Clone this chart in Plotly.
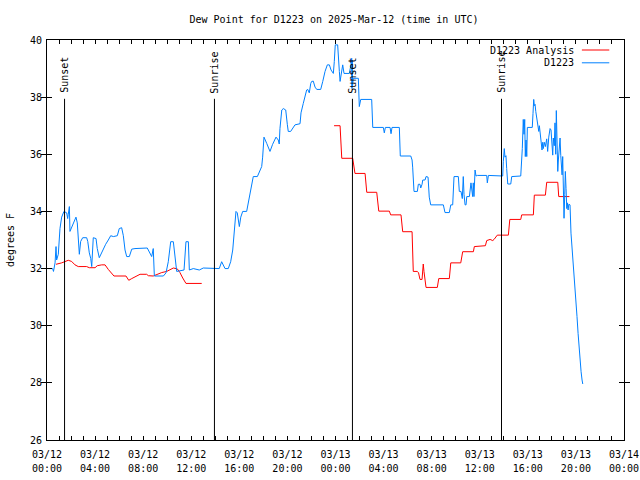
import pandas as pd
import plotly.graph_objects as go

# ---- data (hours since 2025-03-12 00:00 UTC, dew point in degrees F) ----
blue_hours = [0.1, 0.47, 0.54, 0.67, 0.75, 0.8, 0.94, 1.08, 1.22, 1.41, 1.64, 1.72, 1.77, 1.86, 1.91,
              2.05, 2.19, 2.41, 2.52, 2.6, 2.69, 2.8, 2.97, 3.3, 3.39, 3.52, 3.64, 3.72, 3.8, 3.85,
              4.08, 4.18, 4.35, 4.47, 4.68, 4.88, 5.1, 5.3, 5.52, 5.85, 6.01, 6.21, 6.35, 6.49, 6.63,
              6.85, 7.05, 7.32, 8.34, 8.57, 8.71, 8.84, 8.93, 9.68, 9.9, 10.09, 10.29, 10.51, 10.65,
              10.79, 11.4, 11.56, 11.76, 11.84, 12.17, 12.45, 12.67, 13.0, 14.33, 14.53, 14.81, 15.08,
              15.28, 15.45, 15.56, 15.72, 15.83, 16.0, 16.12, 16.28, 16.61, 16.75, 16.89, 17.03, 17.16,
              17.5, 17.72, 17.86, 17.94, 18.0, 18.05, 18.28, 18.55, 18.77, 19.05, 19.24, 19.32, 19.38,
              19.53, 19.66, 19.86, 19.99, 20.07, 20.27, 20.63, 21.05, 21.13, 21.32, 21.46, 21.6, 21.69,
              21.82, 21.94, 22.02, 22.15, 22.3, 22.44, 22.77, 22.94, 23.13, 23.32, 23.49, 23.63, 23.82,
              23.9, 23.98, 24.18, 24.23, 24.32, 24.38, 24.52, 24.6, 24.71, 25.15, 25.27, 25.35, 25.37,
              25.39, 25.42, 25.48, 25.9, 25.98, 26.1, 27.01, 27.1, 27.98, 28.06, 28.15, 28.54, 28.62,
              28.7, 29.31, 29.39, 30.26, 30.37, 30.42, 30.53, 30.81, 30.89, 31.03, 31.09, 31.2, 31.26,
              31.45, 31.53, 31.7, 31.8, 31.92, 32.97, 33.11, 33.47, 33.59, 33.75, 33.86, 34.22, 34.3,
              34.44, 34.55, 34.63, 34.69, 34.78, 34.86, 34.92, 35.14, 35.27, 35.41, 35.46, 35.52, 35.61,
              35.69, 35.8, 36.58, 36.63, 36.72, 37.91, 37.96, 38.04, 38.1, 38.18, 38.24, 38.33, 38.58,
              38.66, 39.41, 39.49, 39.54, 39.62, 39.68, 39.74, 39.79, 39.85, 39.91, 39.96, 40.37, 40.43,
              40.49, 40.54, 40.6, 40.66, 40.74, 40.82, 40.91, 40.96, 41.04, 41.12, 41.18, 41.24, 41.29,
              41.37, 41.46, 41.57, 41.65, 41.74, 41.85, 41.93, 42.01, 42.07, 42.12, 42.2, 42.26, 42.32,
              42.37, 42.43, 42.49, 42.54, 42.6, 42.68, 42.74, 42.79, 42.85, 42.9, 42.95, 43.01, 43.07,
              43.12, 43.18, 43.24, 43.29, 43.35, 43.41, 43.51, 43.59, 43.7, 43.79, 43.93, 44.01, 44.09,
              44.18, 44.26, 44.34, 44.43, 44.51, 44.57]
blue_values = [32.0, 32.0, 31.9, 32.2, 32.77, 32.3, 32.5, 33.4, 33.8, 34.0, 33.95, 33.75, 33.9, 34.17, 33.3,
               33.45, 33.6, 33.8, 33.6, 33.0, 32.5, 32.95, 33.08, 33.08, 32.95, 32.55, 32.35, 32.07, 32.9, 33.08,
               33.05, 32.7, 32.38, 32.5, 32.65, 32.85, 33.0, 33.15, 33.12, 33.15, 33.4, 33.43, 33.15, 32.65, 32.42,
               32.42, 32.68, 32.7, 32.72, 32.5, 32.42, 32.7, 31.74, 31.74, 31.85, 32.24, 32.94, 32.94, 32.4,
               31.9, 31.95, 32.94, 32.94, 31.95, 32.0, 31.97, 31.95, 32.02, 32.0, 32.24, 32.0, 32.0,
               32.24, 32.65, 33.12, 34.0, 33.95, 33.47, 33.8, 34.0, 34.0, 34.29, 34.7, 35.0, 35.22,
               35.22, 35.4, 35.57, 35.9, 36.38, 36.6, 36.38, 36.1, 36.35, 36.6, 36.5, 36.36, 36.9,
               37.55, 37.6, 37.55, 37.05, 36.8, 36.8, 37.03, 37.07, 37.45, 37.78, 38.05, 38.25, 38.27,
               38.15, 38.48, 38.55, 38.56, 38.35, 38.27, 38.27, 38.55, 38.9, 39.13, 39.13, 38.95, 38.83,
               39.25, 39.83, 39.83, 39.3, 38.9, 38.55, 38.95, 39.13, 38.83, 38.83, 39.1, 39.36, 38.3,
               39.3, 38.4, 38.66, 38.66, 37.67, 37.92, 37.92, 36.94, 36.94, 36.75, 36.94, 36.94, 36.72,
               36.94, 36.94, 35.94, 35.94, 35.8, 35.55, 34.7, 34.7, 34.95, 34.95, 34.82, 34.95, 35.1,
               35.1, 35.22, 35.2, 34.5, 34.23, 34.23, 33.96, 33.96, 34.23, 34.23, 35.22, 35.22, 34.7,
               34.7, 34.45, 35.22, 34.6, 34.23, 34.23, 34.52, 34.52, 35.0, 34.52, 35.0, 34.52, 35.45,
               35.24, 35.26, 35.26, 35.0, 35.26, 35.24, 35.74, 36.2, 35.9, 35.95, 35.5, 34.96, 34.96,
               35.22, 35.24, 35.74, 36.2, 37.22, 36.7, 37.22, 35.92, 36.5, 35.92, 36.94, 36.94, 37.43,
               37.92, 37.7, 37.75, 37.5, 37.25, 37.1, 36.8, 37.0, 36.73, 36.42, 36.15, 36.42, 36.2,
               36.42, 36.27, 36.54, 36.1, 36.6, 36.9, 36.85, 36.2, 35.97, 36.57, 36.3, 37.1, 36.0,
               37.53, 36.2, 35.4, 35.8, 36.1, 36.57, 35.95, 35.6, 35.28, 35.92, 35.1, 33.76, 34.6,
               35.4, 34.8, 34.1, 34.3, 34.05, 34.25, 34.23, 33.24, 32.65, 32.07, 31.48, 30.9, 30.32,
               29.73, 29.2, 28.68, 28.39, 28.1, 27.96]

red_hours = [0.75, 1.22, 1.77, 2.05, 2.33, 2.6, 3.3, 3.52, 4.0, 4.18, 4.55, 4.83, 5.1, 5.38, 5.57,
             6.57, 6.8, 7.05, 7.46, 7.74, 8.29, 8.43, 8.84, 9.18, 9.54, 9.96, 10.23, 10.51, 10.84,
             11.06, 11.29, 11.56, 12.87,
             None,
             23.88, 24.38, 24.52, 25.43, 25.62, 26.46, 26.6, 27.43, 27.6, 28.48, 28.59, 29.45, 29.59,
             30.37, 30.47, 30.81, 30.91, 31.03, 31.2, 31.26, 31.3, 31.36, 31.53, 32.47, 32.59, 33.47,
             33.59, 34.42, 34.58, 35.47, 35.55, 36.47, 36.58, 36.86, 37.08, 37.19, 37.36, 37.46, 38.38,
             38.5, 39.41, 39.49, 40.46, 40.54, 41.46, 41.57, 42.49, 42.57, 43.46]
red_values = [32.15, 32.2, 32.29, 32.25, 32.13, 32.07, 32.07, 32.03, 32.03, 32.1, 32.13, 32.13, 31.97, 31.82, 31.74,
              31.74, 31.59, 31.65, 31.75, 31.8, 31.8, 31.75, 31.74, 31.81, 31.86, 31.9, 31.96, 32.02, 31.99,
              31.86, 31.67, 31.48, 31.48,
              None,
              37.0, 37.0, 35.86, 35.86, 35.33, 35.33, 34.67, 34.67, 34.01, 34.01, 33.88, 33.88, 33.29,
              33.29, 31.9, 31.9, 31.85, 31.62, 31.62, 32.1, 32.16, 31.9, 31.34, 31.34, 31.65, 31.65,
              32.2, 32.2, 32.59, 32.59, 32.77, 32.8, 32.98, 33.02, 32.98, 33.02, 33.1, 33.17, 33.17,
              33.72, 33.72, 33.88, 33.88, 34.57, 34.57, 35.02, 35.02, 34.52, 34.52]

sun_labels = ["Sunset", "Sunrise", "Sunset", "Sunrise"]
sun_hours = [1.46, 13.93, 25.41, 37.81]

series_names = ["D1223 Analysis", "D1223"]
series_colors = ["#ff0000", "#0080ff"]

title_text = "Dew Point for D1223 on 2025-Mar-12 (time in UTC)"
y_title = "degrees F"
y_ticks = [26, 28, 30, 32, 34, 36, 38, 40]

base = pd.Timestamp("2025-03-12 00:00")
x_end = base + pd.Timedelta(hours=48)


def to_time(hours):
    return [None if h is None else base + pd.Timedelta(hours=h) for h in hours]


FONT = "DejaVu Sans Mono"
TF = dict(family=FONT, size=10, color="black")

fig = go.Figure()
fig.add_trace(go.Scatter(x=to_time(red_hours), y=red_values, mode="lines",
                         line=dict(color=series_colors[0], width=1), name=series_names[0],
                         connectgaps=False))
fig.add_trace(go.Scatter(x=to_time(blue_hours), y=blue_values, mode="lines",
                         line=dict(color=series_colors[1], width=1), name=series_names[1]))
# empty trace so the second (time-of-day label) axis is drawn
fig.add_trace(go.Scatter(x=[], y=[], xaxis="x2", yaxis="y", showlegend=False, hoverinfo="skip"))

# sunrise / sunset markers
for lab, h in zip(sun_labels, sun_hours):
    t = base + pd.Timedelta(hours=h)
    fig.add_shape(type="line", xref="x", yref="y domain", x0=t, x1=t, y0=0, y1=0.853,
                  line=dict(color="black", width=1))
    fig.add_annotation(x=t, xref="x", y=0.862, yref="y domain", text=lab, textangle=-90,
                       showarrow=False, xanchor="center", yanchor="bottom", font=TF)

# manual legend (text left of sample, gnuplot style)
leg_y = [0.975, 0.943]
for name, col, yy in zip(series_names, series_colors, leg_y):
    fig.add_annotation(x=0.916, xref="paper", y=yy, yref="paper", text=name, showarrow=False,
                       xanchor="right", yanchor="middle", font=TF)
    fig.add_shape(type="line", xref="paper", yref="paper", x0=0.927, x1=0.9745, y0=yy, y1=yy,
                  line=dict(color=col, width=1))

# y-axis title
fig.add_annotation(x=-0.064, xref="paper", y=0.5, yref="paper", text=y_title, textangle=-90,
                   showarrow=False, xanchor="center", yanchor="middle", font=TF)

fig.update_layout(
    width=640, height=480,
    margin=dict(l=47, r=16, t=40, b=40, autoexpand=False),
    paper_bgcolor="white", plot_bgcolor="white",
    showlegend=False,
    font=TF,
    title=dict(text=title_text, x=334 / 640, xanchor="center", xref="container",
               y=1 - 19 / 480, yanchor="middle", yref="container", font=TF),
    xaxis=dict(range=[base, x_end], type="date", automargin=False,
               tick0=base, dtick=4 * 3600 * 1000, tickformat="%m/%d",
               ticks="inside", ticklen=4, tickcolor="black", showgrid=False, zeroline=False,
               showline=True, linecolor="black", linewidth=1, mirror="allticks",
               ticklabelstandoff=5,
               minor=dict(dtick=3600 * 1000, ticks="inside", ticklen=4, tickcolor="black", showgrid=False),
               tickfont=TF),
    xaxis2=dict(range=[base, x_end], type="date", automargin=False, overlaying="x", matches="x",
                side="bottom", anchor="y",
                tick0=base, dtick=4 * 3600 * 1000, tickformat="%H:%M",
                ticks="", showgrid=False, zeroline=False, showline=False,
                ticklabelstandoff=21, tickfont=TF),
    yaxis=dict(range=[26, 40], tickvals=y_ticks, ticktext=[str(v) for v in y_ticks],
               automargin=False, ticklabelstandoff=2,
               ticks="inside", ticklen=5, tickcolor="black", showgrid=False, zeroline=False,
               showline=True, linecolor="black", linewidth=1, mirror="allticks",
               tickfont=TF),
)

fig.write_html("out.html")
